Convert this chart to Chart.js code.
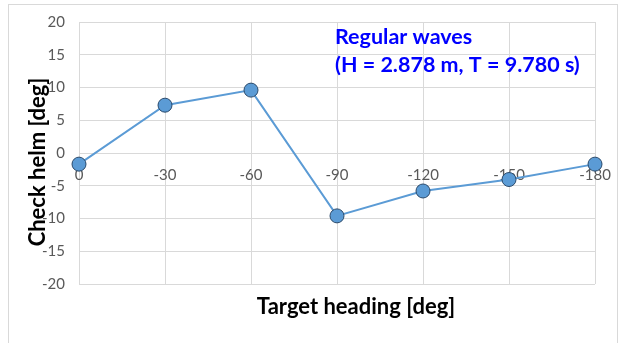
<!DOCTYPE html>
<html>
<head>
<meta charset="utf-8">
<script src="https://cdn.jsdelivr.net/npm/chart.js@4/dist/chart.umd.min.js"></script>
<style>
  html, body { margin: 0; padding: 0; background: #fff; }
  #wrap { width: 619px; height: 343px; }
</style>
</head>
<body>
<div id="wrap"><canvas id="helmChart" width="619" height="343"></canvas></div>
<script>
// Données du graphique
const headings = ['0', '-30', '-60', '-90', '-120', '-150', '-180'];
const checkHelm = [-1.7, 7.3, 9.6, -9.6, -5.8, -4.05, -1.7];
const yMin = -20;
const yMax = 20;
const yStep = 5;

const titleLines = ['Regular waves', '(H = 2.878 m, T = 9.780 s)'];
const xTitle = 'Target heading [deg]';
const yTitle = 'Check helm [deg]';

const fontFamily = 'Lato, "Open Sans", sans-serif';

/**
 * Cadre, titres des axes et annotation
 */
const decorPlugin = {
    id: 'decor',
    beforeDraw(chart) {
        const ctx = chart.ctx;
        ctx.save();
        ctx.strokeStyle = '#d9d9d9';
        ctx.lineWidth = 1;
        ctx.strokeRect(8.5, 4.5, 609, 400);
        ctx.restore();
    },
    afterDraw(chart) {
        const ctx = chart.ctx;
        const xScale = chart.scales.x;
        ctx.save();

        // Titre de l'axe X
        ctx.fillStyle = '#000';
        ctx.font = 'bold 22px ' + fontFamily;
        ctx.textAlign = 'center';
        ctx.textBaseline = 'middle';
        ctx.fillText(xTitle, 356, 307);

        // Titre de l'axe Y
        ctx.translate(38, 162);
        ctx.rotate(-Math.PI / 2);
        ctx.fillText(yTitle, 0, 0);
        ctx.setTransform(1, 0, 0, 1, 0, 0);

        // Annotation
        ctx.fillStyle = '#0000ff';
        ctx.font = 'bold 21.5px ' + fontFamily;
        ctx.textAlign = 'left';
        const left = xScale.getPixelForValue(3) - 2;
        ctx.fillText(titleLines[0], left, 37);
        ctx.fillText(titleLines[1], left, 65);
        ctx.restore();
    }
};

new Chart(document.getElementById('helmChart'), {
    type: 'line',
    data: {
        labels: headings,
        datasets: [{
            label: 'Check helm',
            data: checkHelm,
            borderColor: '#5b9bd5',
            borderWidth: 2,
            backgroundColor: '#5b9bd5',
            pointBackgroundColor: '#5b9bd5',
            pointBorderColor: '#2b4a6b',
            pointBorderWidth: 1,
            pointRadius: 7,
            tension: 0
        }]
    },
    options: {
        responsive: false,
        animation: false,
        layout: {
            padding: { left: 8, right: 24, top: 22, bottom: 59 }
        },
        plugins: {
            legend: { display: false },
            tooltip: { enabled: false }
        },
        scales: {
            x: {
                position: { y: 0 },
                offset: false,
                grid: { color: '#d9d9d9', drawTicks: false },
                border: { color: '#d9d9d9' },
                ticks: {
                    color: '#595959',
                    font: { family: fontFamily, size: 15 },
                    padding: 13,
                    maxRotation: 0
                },
                afterFit(scale) {
                    scale.paddingLeft = 0;
                    scale.paddingRight = 0;
                }
            },
            y: {
                min: yMin,
                max: yMax,
                grid: { color: '#d9d9d9', drawTicks: false },
                border: { display: false },
                ticks: {
                    stepSize: yStep,
                    color: '#595959',
                    font: { family: fontFamily, size: 15 },
                    padding: 14
                },
                afterFit(scale) {
                    scale.width = 71;
                    scale.paddingTop = 0;
                    scale.paddingBottom = 0;
                }
            }
        }
    },
    plugins: [decorPlugin]
});
</script>
</body>
</html>
